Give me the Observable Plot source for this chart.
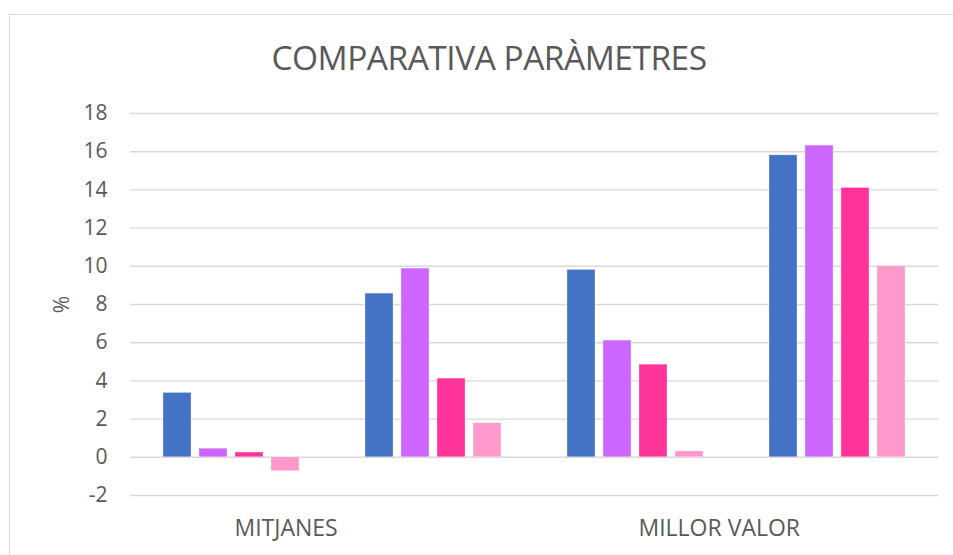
<!DOCTYPE html>
<html>
<head>
<meta charset="utf-8">
<script src="https://cdn.jsdelivr.net/npm/d3@7"></script>
<script src="https://cdn.jsdelivr.net/npm/@observablehq/plot@0.6"></script>
<style>
  html, body { margin: 0; padding: 0; background: #fff; overflow: hidden; }
  #wrap { position: relative; width: 953px; height: 555px; }
  #frame { position: absolute; left: 9px; top: 14px; width: 1000px; height: 600px; border: 1px solid #d9d9d9; box-sizing: border-box; }
  #title { position: absolute; left: 0; top: 41px; width: 978px; text-align: center; font-family: "Open Sans", sans-serif; font-size: 33.5px; color: #595959; line-height: 1; letter-spacing: -0.5px; }
  #chart { position: absolute; left: 0; top: 0; }
</style>
</head>
<body>
<div id="wrap">
  <div id="frame"></div>
  <div id="chart"></div>
  <div id="title">COMPARATIVA PARÀMETRES</div>
</div>
<script>
const groupKeys = ["g1", "g2", "g3", "g4"];
const groupLabels = ["MITJANES", "", "MILLOR VALOR", ""];
const series = ["S1", "S2", "S3", "S4"];
const seriesColors = ["#4472C4", "#CC66FF", "#FF3399", "#FF99CC"];
const mitjanesA = [3.37, 0.45, 0.25, -0.73];
const mitjanesB = [8.57, 9.88, 4.12, 1.78];
const millorA = [9.81, 6.11, 4.85, 0.31];
const millorB = [15.81, 16.32, 14.1, 10.0];
const yTicks = [-2, 0, 2, 4, 6, 8, 10, 12, 14, 16, 18];

const groupValues = [mitjanesA, mitjanesB, millorA, millorB];
const data = [];
groupKeys.forEach((g, i) => {
  series.forEach((s, j) => data.push({group: g, series: s, value: groupValues[i][j]}));
});
const labelOf = new Map(groupKeys.map((g, i) => [g, groupLabels[i]]));

const chart = Plot.plot({
  width: 953,
  height: 555,
  marginLeft: 130,
  marginRight: 15,
  marginTop: 113,
  marginBottom: 60,
  style: {fontFamily: "Open Sans, sans-serif", fontSize: "21px", color: "#595959", background: "transparent", overflow: "visible"},
  fx: {domain: groupKeys, padding: 0, axis: null, label: null},
  x: {domain: series, paddingInner: 0.21, paddingOuter: 0.86, axis: null},
  y: {domain: [-2, 18], axis: null},
  color: {domain: series, range: seriesColors},
  marks: [
    Plot.gridY(yTicks, {stroke: "#d9d9d9", strokeOpacity: 1, strokeWidth: 1.4}),
    Plot.barY(data, {fx: "group", x: "series", y: "value", fill: "series", stroke: "#ffffff", strokeOpacity: 0.5, strokeWidth: 0.6}),
    Plot.axisY(yTicks, {tickSize: 0, tickPadding: 23, tickFormat: d => String(d), fontSize: 21, label: "%", labelAnchor: "center", labelOffset: 76, labelArrow: "none"}),
    Plot.axisFx({anchor: "bottom", tickSize: 0, tickPadding: 24, tickFormat: g => labelOf.get(g), textAnchor: "start", dx: 3, fontSize: 23, label: null})
  ]
});
document.getElementById("chart").appendChild(chart);
</script>
</body>
</html>
